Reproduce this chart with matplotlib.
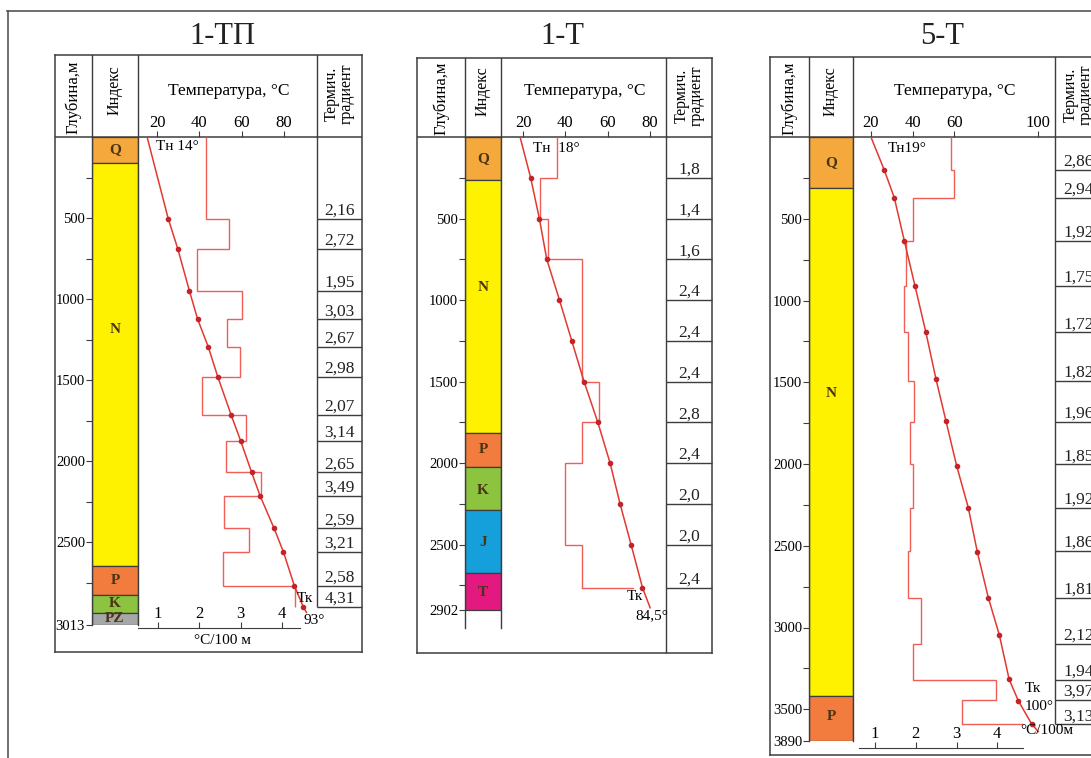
import matplotlib
matplotlib.use('Agg')
import matplotlib.pyplot as plt
from matplotlib.lines import Line2D

W, H = 1091, 758
plt.rcParams['font.family'] = ['Liberation Serif', 'DejaVu Serif']

LINE = '#3d3d3d'
RED = '#e2392f'
STEP = '#ef5f58'
DOT = '#c4232a'
LAYER_COLORS = {'Q': '#f5a83c', 'N': '#fff200', 'P': '#f27c3e', 'K': '#8cc43f',
                'PZ': '#a7a7a7', 'J': '#16a0db', 'T': '#e3197f'}

# ---------- 1-ТП ----------
tp_layers = ['Q', 'N', 'P', 'K', 'PZ']
tp_layer_top = [0, 160, 2648, 2827, 2938]
tp_layer_base = [160, 2648, 2827, 2938, 3013]
tp_label_depth = [80, 1190, 2737, 2882, 2975]
tp_depth = [0, 505, 690, 950, 1125, 1295, 1480, 1715, 1875, 2070, 2215, 2415, 2560, 2770, 2900, 2935]
tp_temp = [15.3, 25.3, 29.8, 35.3, 39.2, 44.2, 48.7, 55.0, 59.5, 64.7, 68.7, 75.3, 79.7, 84.9, 89.1, 90.6]
tp_edges = [0, 505, 690, 950, 1125, 1295, 1480, 1715, 1875, 2070, 2215, 2415, 2560, 2770, 2900]
tp_grad = [2.16, 2.72, 1.95, 3.03, 2.67, 2.98, 2.07, 3.14, 2.65, 3.49, 2.59, 3.21, 2.58, 4.31]

# ---------- 1-Т ----------
t1_layers = ['Q', 'N', 'P', 'K', 'J', 'T']
t1_layer_top = [0, 264, 1816, 2025, 2288, 2675]
t1_layer_base = [264, 1816, 2025, 2288, 2675, 2902]
t1_label_depth = [132, 926, 1920, 2170, 2485, 2795]
t1_depth = [0, 250, 500, 750, 1000, 1250, 1500, 1750, 2000, 2250, 2500, 2765, 2888]
t1_temp = [18.6, 23.6, 27.7, 31.2, 37.2, 43.0, 48.8, 55.3, 61.1, 65.8, 71.0, 76.4, 80.0]
t1_edges = [0, 250, 500, 750, 1000, 1250, 1500, 1750, 2000, 2250, 2500, 2765]
t1_grad = [1.8, 1.4, 1.6, 2.4, 2.4, 2.4, 2.8, 2.4, 2.0, 2.0, 2.4]
t1_tail = 3.6

# ---------- 5-Т ----------
t5_layers = ['Q', 'N', 'P']
t5_layer_top = [0, 310, 3419]
t5_layer_base = [310, 3419, 3694]
t5_label_depth = [155, 1566, 3546]
t5_depth = [0, 202, 371, 634, 909, 1191, 1480, 1737, 2010, 2267, 2536, 2817, 3046, 3317, 3448, 3590, 3637]
t5_temp = [20.0, 26.4, 31.2, 36.0, 41.1, 46.3, 51.2, 56.0, 61.1, 66.7, 71.0, 76.3, 81.6, 86.3, 90.7, 97.1, 100.3]
t5_edges = [0, 202, 371, 634, 909, 1194, 1491, 1742, 2002, 2267, 2530, 2817, 3101, 3321, 3443, 3592]
t5_grad = [2.86, 2.94, 1.92, 1.75, 1.72, 1.82, 1.96, 1.85, 1.92, 1.86, 1.81, 2.12, 1.94, 3.97, 3.13]
t5_tail = 4.6

WELLS = [
    dict(name='1-ТП', layers=tp_layers, top=tp_layer_top, base=tp_layer_base, lbl=tp_label_depth,
         depth=tp_depth, temp=tp_temp, edges=tp_edges, grad=tp_grad, tail=None, dec=2,
         major=[500, 1000, 1500, 2000, 2500], minor=[250, 750, 1250, 1750, 2250, 2750],
         bottom_tick=3013, bottom_label='3013', col_bottom=3013,
         t_ticks=[20, 40, 60, 80], t_start='Тн 14°', t_end=('Тк', '93°')),
    dict(name='1-Т', layers=t1_layers, top=t1_layer_top, base=t1_layer_base, lbl=t1_label_depth,
         depth=t1_depth, temp=t1_temp, edges=t1_edges, grad=t1_grad, tail=t1_tail, dec=1,
         major=[500, 1000, 1500, 2000, 2500], minor=[250, 750, 1250, 1750, 2250, 2750],
         bottom_tick=2902, bottom_label='2902', col_bottom=3012,
         t_ticks=[20, 40, 60, 80], t_start='Тн  18°', t_end=('Тк', '84,5°')),
    dict(name='5-Т', layers=t5_layers, top=t5_layer_top, base=t5_layer_base, lbl=t5_label_depth,
         depth=t5_depth, temp=t5_temp, edges=t5_edges, grad=t5_grad, tail=t5_tail, dec=2,
         major=[500, 1000, 1500, 2000, 2500, 3000, 3500],
         minor=[250, 750, 1250, 1750, 2250, 2750, 3250],
         bottom_tick=3694, bottom_label='3890', col_bottom=3694,
         t_ticks=[20, 40, 60, 100], t_start='Тн19°', t_end=('Тк', '100°')),
]

# pixel layout of each panel
LAYOUT = [
    dict(x=(55, 92, 138, 317, 362), y=(55, 137, 652), scale=0.162, title_x=222,
         t_lim=(11.0, 95.6), g_lim=(0.516, 4.85), grad_full=False,
         gaxis=(138, 300, 628, 0.516, 4.44), unit=(223, 640, 'center', '°C/100 м'),
         start=(156, 147), tk=(297, 598, 'left'), tend=(303, 621, 'left')),
    dict(x=(417, 465, 501, 666, 712), y=(58, 137, 653), scale=0.163, title_x=562,
         t_lim=(9.6, 87.5), g_lim=(0.48, 4.38), grad_full=True,
         gaxis=None, unit=None,
         start=(533, 148), tk=(627, 597, 'left'), tend=(668, 616, 'right')),
    dict(x=(770, 809, 853, 1055, 1102), y=(57, 137, 755), scale=0.1635, title_x=942,
         t_lim=(11.4, 108.3), g_lim=(0.461, 5.41), grad_full=False,
         gaxis=(859, 1023, 748, 0.608, 4.63), unit=(1020, 730, 'left', '°C/100м'),
         start=(888, 148), tk=(1025, 689, 'left'), tend=(1025, 707, 'left')),
]


def px_axes(fig, x0, y0, x1, y1):
    ax = fig.add_axes([x0 / W, 1 - y1 / H, (x1 - x0) / W, (y1 - y0) / H])
    ax.patch.set_alpha(0)
    return ax


def ftext(fig, x, y, s, **kw):
    fig.text(x / W, 1 - y / H, s, **kw)


def draw_well(fig, w, lay):
    L, A, B, C, R = lay['x']
    T, HB, BOT = lay['y']
    sc = lay['scale']
    d_full = (BOT - HB) / sc

    # frame and header
    fr = px_axes(fig, L, T, R, BOT)
    fr.set_xlim(L, R)
    fr.set_ylim(BOT, T)
    fr.set_xticks([])
    fr.set_yticks([])
    for s in fr.spines.values():
        s.set_color(LINE)
        s.set_linewidth(1.1)
    fr.plot([L, R], [HB, HB], color=LINE, lw=1.1)
    for xs in (A, B, C):
        fr.plot([xs, xs], [T, HB], color=LINE, lw=1.0)
    fr.text((L + A) / 2, (T + HB) / 2 + 1, 'Глубина,м', rotation=90, ha='center', va='center', fontsize=12)
    fr.text((A + B) / 2, (T + HB) / 2 - 6, 'Индекс', rotation=90, ha='center', va='center', fontsize=11.5)
    fr.text((B + C) / 2 + 1, 91, 'Температура, °C', ha='center', va='center', fontsize=12.5)
    fr.text((C + R) / 2, (T + HB) / 2 - 2, 'Термич.\nградиент', rotation=90, ha='center', va='center',
            fontsize=11.5, linespacing=0.95)
    ftext(fig, lay['title_x'], 37, w['name'], ha='center', va='center', fontsize=22, color='#222222')

    # stratigraphic column
    cb = w['col_bottom']
    sa = px_axes(fig, A, HB, B, HB + cb * sc)
    sa.set_xlim(0, 1)
    sa.set_ylim(cb, 0)
    sa.barh(w['top'], 1, height=[b - t for t, b in zip(w['top'], w['base'])], left=0, align='edge',
            color=[LAYER_COLORS[n] for n in w['layers']], edgecolor=LINE, linewidth=0.9)
    for n, d in zip(w['layers'], w['lbl']):
        sa.text(0.5, d, n, ha='center', va='center', fontsize=11, fontweight='bold', color='#4a3414')
    sa.spines['top'].set_visible(False)
    sa.spines['bottom'].set_visible(False)
    for s in ('left', 'right'):
        sa.spines[s].set_color(LINE)
        sa.spines[s].set_linewidth(1.0)
    sa.set_xticks([])
    sa.set_yticks(w['major'] + [w['bottom_tick']])
    sa.set_yticklabels([str(v) for v in w['major']] + [w['bottom_label']])
    sa.set_yticks(w['minor'], minor=True)
    sa.tick_params(axis='y', which='both', direction='out', length=4, width=0.8, color=LINE,
                   labelsize=10.5, pad=1)

    # temperature + gradient curves
    ta = px_axes(fig, B, HB, C, BOT)
    ga = ta.twiny()
    ta.set_xlim(*lay['t_lim'])
    ta.set_ylim(d_full, 0)
    for s in ta.spines.values():
        s.set_visible(False)
    ta.xaxis.tick_top()
    ta.set_xticks(w['t_ticks'])
    ta.set_yticks([])
    ta.tick_params(axis='x', direction='out', length=4, width=0.8, color=LINE, labelsize=12, pad=0.5)
    ga.set_xlim(*lay['g_lim'])
    ga.set_axis_off()
    ga.stairs(w['grad'], w['edges'], orientation='horizontal', baseline=None, color=STEP, lw=1.0)
    if w['tail'] is not None:
        ga.plot([w['grad'][-1], w['tail']], [w['edges'][-1]] * 2, color=STEP, lw=1.0)
    ta.set_zorder(ga.get_zorder() + 1)
    n = len(w['depth'])
    ta.plot(w['temp'], w['depth'], color=RED, lw=1.1, marker='o', ms=3, mfc=DOT, mec=DOT,
            markevery=list(range(1, n - 1)))

    # thermal gradient column
    ca = px_axes(fig, C, HB, R, BOT)
    ca.set_xlim(0, 1)
    ca.set_ylim(d_full, 0)
    ca.set_axis_off()
    vend = d_full if lay['grad_full'] else w['edges'][-1]
    ca.vlines(0, 0, vend, color=LINE, lw=1.0, clip_on=False)
    ca.hlines(w['edges'][1:], 0, 1, color=LINE, lw=1.0, clip_on=False)
    for bot, v in zip(w['edges'][1:], w['grad']):
        ca.text(0.5, bot - 4 / sc, f"{v:.{w['dec']}f}".replace('.', ','), ha='center', va='baseline',
                fontsize=12.5, color='#222222')

    # gradient scale at the bottom
    if lay['gaxis'] is not None:
        x0, x1, yl, g0, g1 = lay['gaxis']
        ba = px_axes(fig, x0, yl, x1, yl + 1)
        ba.set_xlim(g0, g1)
        for s in ('left', 'right', 'bottom'):
            ba.spines[s].set_visible(False)
        ba.spines['top'].set_color(LINE)
        ba.xaxis.tick_top()
        ba.set_xticks([1, 2, 3, 4])
        ba.set_yticks([])
        ba.tick_params(axis='x', direction='out', length=4, width=0.8, color=LINE, labelsize=12, pad=0)
        ux, uy, uha, ut = lay['unit']
        ftext(fig, ux, uy, ut, ha=uha, va='center', fontsize=11)

    # annotations
    ftext(fig, *lay['start'], w['t_start'], ha='left', va='center', fontsize=11)
    ftext(fig, lay['tk'][0], lay['tk'][1], w['t_end'][0], ha=lay['tk'][2], va='center', fontsize=11)
    ftext(fig, lay['tend'][0], lay['tend'][1], w['t_end'][1], ha=lay['tend'][2], va='center', fontsize=11)


fig = plt.figure(figsize=(W / 100, H / 100), dpi=100)
fig.patch.set_facecolor('white')
for w, lay in zip(WELLS, LAYOUT):
    draw_well(fig, w, lay)

# border of the original figure
fig.add_artist(Line2D([7 / W, 1], [1 - 11 / H] * 2, color='#555555', lw=1.2))
fig.add_artist(Line2D([8 / W] * 2, [0, 1 - 11 / H], color='#555555', lw=1.2))

fig.savefig('out.png', dpi=100)
